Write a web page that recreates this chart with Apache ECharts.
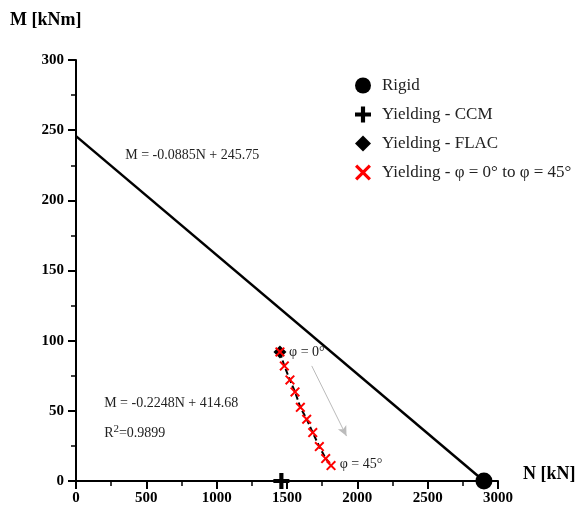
<!DOCTYPE html>
<html><head><meta charset="utf-8">
<script src="https://cdn.jsdelivr.net/npm/echarts@6/dist/echarts.min.js"></script>
<style>html,body{margin:0;padding:0;background:#fff}#c{width:581px;height:524px}</style>
</head><body><div id="c"></div>
<script>
// ---- data ----
var xTicks = [0, 500, 1000, 1500, 2000, 2500, 3000];
var yTicks = [0, 50, 100, 150, 200, 250, 300];
var rigid = [[2900, 0]];
var ccm = [[1460, 0]];
var flac = [[1450, 92]];
var yieldingPhi = [[1450, 92], [1481, 82], [1521, 72], [1557, 63.5], [1595, 52.5], [1640, 44], [1683, 34.5], [1730, 24.5], [1775, 16], [1813, 11]];
var mainLine = [[0, 245.75], [2900, 0]];
var arrowFrom = [1676, 82];
var arrowTo = [1923, 32];
var labels = [
  {text: 'M = -0.0885N + 245.75', at: [350, 232]},
  {text: 'M = -0.2248N + 414.68', at: [200, 55]},
  {text: 'R{s|2}=0.9899', at: [200, 34]},
  {text: 'φ = 0°', at: [1515, 92]},
  {text: 'φ = 45°', at: [1875, 12]}
];

var serif = '"Liberation Serif", "Times New Roman", serif';
var plusPath = 'path://M-1.3,-5 H1.3 V-1.3 H5 V1.3 H1.3 V5 H-1.3 V1.3 H-5 V-1.3 H-1.3 Z';
var xPath = 'path://M-5,-3.6 L-3.6,-5 L0,-1.4 L3.6,-5 L5,-3.6 L1.4,0 L5,3.6 L3.6,5 L0,1.4 L-3.6,5 L-5,3.6 L-1.4,0 Z';

var chart = echarts.init(document.getElementById('c'));
var option = {
  animation: false,
  backgroundColor: '#fff',
  textStyle: {fontFamily: serif},
  grid: {left: 76, right: 83, top: 60, bottom: 43},
  legend: {
    orient: 'vertical', left: 355, top: 77, padding: 0, itemGap: 12, itemWidth: 16, itemHeight: 16,
    textStyle: {fontFamily: serif, fontSize: 17, color: '#222', padding: [0, 0, 0, 6]},
    data: [
      {name: 'Rigid', icon: 'circle', itemStyle: {color: '#000', opacity: 1}},
      {name: 'Yielding - CCM', icon: plusPath, itemStyle: {color: '#000', opacity: 1}},
      {name: 'Yielding - FLAC', icon: 'diamond', itemStyle: {color: '#000', opacity: 1}},
      {name: 'Yielding - φ = 0° to φ = 45°', icon: xPath, itemStyle: {color: '#f00', opacity: 1}}
    ]
  },
  xAxis: {
    type: 'value', min: 0, max: 3000, interval: 500,
    name: 'N [kN]', nameLocation: 'end', nameGap: 25,
    nameTextStyle: {fontFamily: serif, fontSize: 18, fontWeight: 'bold', color: '#000', verticalAlign: 'bottom', padding: [0,0,-2,0]},
    axisLine: {onZero: false, lineStyle: {color: '#000', width: 2}},
    axisTick: {length: 8, lineStyle: {color: '#000', width: 2}},
    minorTick: {show: true, splitNumber: 2, length: 5, lineStyle: {color: '#000', width: 1.5}},
    axisLabel: {fontFamily: serif, fontSize: 15, fontWeight: 'bold', color: '#000', margin: 10,
      formatter: function (v) { return String(v); }},
    splitLine: {show: false}
  },
  yAxis: {
    type: 'value', min: 0, max: 300, interval: 50,
    name: 'M [kNm]', nameLocation: 'end', nameGap: 31,
    nameTextStyle: {fontFamily: serif, fontSize: 18, fontWeight: 'bold', color: '#000', align: 'left', padding: [0,0,0,-66]},
    axisLine: {onZero: false, lineStyle: {color: '#000', width: 2}},
    axisTick: {length: 8, lineStyle: {color: '#000', width: 2}},
    minorTick: {show: true, splitNumber: 2, length: 5, lineStyle: {color: '#000', width: 1.5}},
    axisLabel: {fontFamily: serif, fontSize: 15, fontWeight: 'bold', color: '#000', margin: 12,
      formatter: function (v) { return String(v); }},
    splitLine: {show: false}
  },
  series: [
    {name: 'main', type: 'line', data: mainLine, showSymbol: false, symbol: 'none',
     lineStyle: {color: '#000', width: 2.5}, z: 2, silent: true,
     markLine: {silent: true, symbol: ['none', 'arrow'], symbolSize: [7, 10],
       lineStyle: {color: '#bbb', width: 1, type: 'solid'}, label: {show: false},
       data: [[{coord: arrowFrom}, {coord: arrowTo}]]}},
    {name: 'fit', type: 'line', data: yieldingPhi, symbol: 'none',
     lineStyle: {color: '#000', width: 2, type: [6, 3]}, z: 3, silent: true},
    {name: 'Rigid', type: 'scatter', data: rigid, symbol: 'circle', symbolSize: 17, clip: false,
     itemStyle: {color: '#000', opacity: 1}, z: 5},
    {name: 'Yielding - CCM', type: 'scatter', data: ccm, symbol: plusPath, symbolSize: 16, clip: false,
     itemStyle: {color: '#000', opacity: 1}, z: 5},
    {name: 'Yielding - FLAC', type: 'scatter', data: flac, symbol: 'diamond', symbolSize: 13, clip: false,
     itemStyle: {color: '#000', opacity: 1}, z: 5},
    {name: 'Yielding - φ = 0° to φ = 45°', type: 'scatter', data: yieldingPhi, symbol: xPath, symbolSize: 10, clip: false,
     itemStyle: {color: '#f00', opacity: 1}, z: 6}
  ]
};
chart.setOption(option);

var g = labels.map(function (l) {
  var p = chart.convertToPixel({gridIndex: 0}, l.at);
  return {type: 'text', x: p[0], y: p[1], z: 10,
    style: {text: l.text, fontFamily: serif, fontSize: 14, fill: '#222', align: 'left', verticalAlign: 'middle',
      rich: {s: {fontFamily: serif, fontSize: 11, verticalAlign: 'top', padding: [0, 0, 8, 0], fill: '#222'}}}};
});
chart.setOption({graphic: g});
</script></body></html>
